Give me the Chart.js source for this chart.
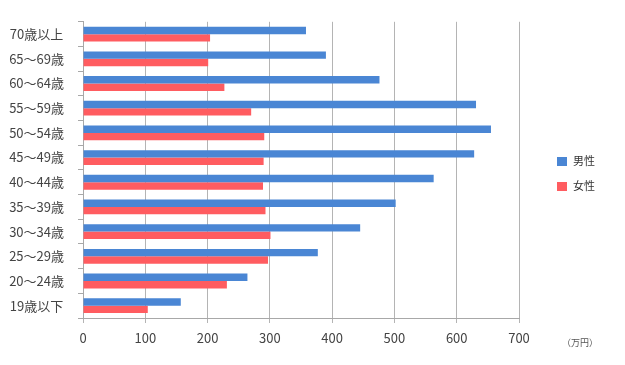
<!DOCTYPE html>
<html>
<head>
<meta charset="utf-8">
<script src="https://cdn.jsdelivr.net/npm/chart.js@4.4.1/dist/chart.umd.min.js"></script>
<style>
  html, body { margin: 0; padding: 0; background: #fff; }
</style>
</head>
<body>
<canvas id="myChart" width="625" height="365"></canvas>
<script>
// age groups, top to bottom
const ageGroups = ['70歳以上', '65～69歳', '60～64歳', '55～59歳', '50～54歳', '45～49歳',
                   '40～44歳', '35～39歳', '30～34歳', '25～29歳', '20～24歳', '19歳以下'];
// average income (万円)
const maleIncome   = [358, 390, 476, 631, 655, 628, 563, 502, 445, 377, 264, 157];
const femaleIncome = [204, 201, 227, 270, 291, 290, 289, 293, 301, 297, 231, 104];
const seriesNames = ['男性', '女性'];
const unitLabel = '（万円）';
const xMax = 700;
const xStep = 100;

const blue = 'rgb(74, 134, 212)';
const red = 'rgb(255, 92, 96)';
const font = '"Noto Sans CJK JP", "Noto Sans", sans-serif';

// legend on the right + unit text under it
const sideNotes = {
    id: 'sideNotes',
    afterDraw(chart) {
        const c = chart.ctx;
        c.save();
        c.textBaseline = 'middle';
        chart.data.datasets.forEach(function (ds, i) {
            const y = 161 + i * 25;
            c.fillStyle = ds.backgroundColor;
            c.fillRect(557, y - 4, 10, 9);
            c.fillStyle = '#333';
            c.font = '11px ' + font;
            c.fillText(ds.label, 573, y);
        });
        c.fillStyle = '#555';
        c.font = '9px ' + font;
        c.fillText(unitLabel, 562, 343);
        c.restore();
    }
};

const ctx = document.getElementById('myChart').getContext('2d');

var myChart = new Chart(ctx, {
    type: 'bar',
    data: {
        labels: ageGroups,
        datasets: [{
            label: seriesNames[0],
            data: maleIncome,
            backgroundColor: blue
        }, {
            label: seriesNames[1],
            data: femaleIncome,
            backgroundColor: red
        }]
    },
    options: {
        indexAxis: 'y',
        responsive: false,
        animation: false,
        layout: { padding: { top: 9, right: 106, left: 0, bottom: 0 } },
        datasets: {
            bar: { categoryPercentage: 0.6, barPercentage: 1.0 }
        },
        plugins: {
            legend: { display: false },
            tooltip: { enabled: false }
        },
        scales: {
            x: {
                min: 0,
                max: xMax,
                ticks: {
                    stepSize: xStep,
                    color: '#444',
                    font: { family: font, size: 13 },
                    padding: 7
                },
                grid: {
                    color: '#b4b4b4',
                    tickLength: 5
                },
                border: { color: '#a8a8a8' },
                afterFit: function (scale) { scale.height = 47; }
            },
            y: {
                ticks: {
                    color: '#444',
                    font: { family: font, size: 13 },
                    crossAlign: 'center',
                    padding: 14
                },
                grid: {
                    drawOnChartArea: false,
                    color: '#a8a8a8',
                    tickLength: 5
                },
                border: { color: '#a8a8a8' },
                afterFit: function (scale) { scale.width = 83; }
            }
        }
    },
    plugins: [sideNotes]
});
</script>
</body>
</html>
